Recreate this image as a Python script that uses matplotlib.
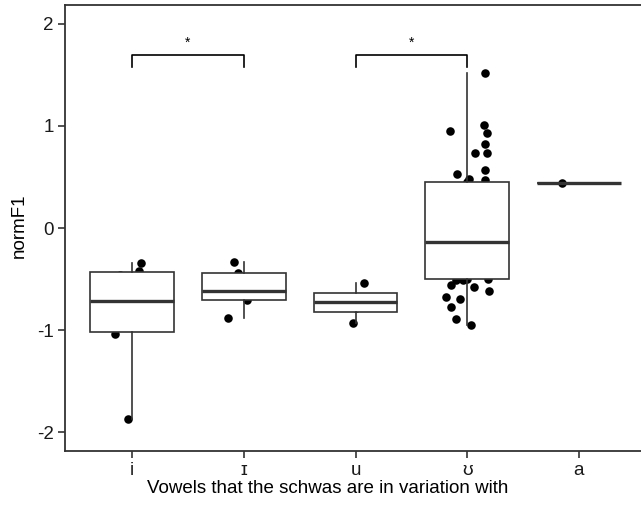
import matplotlib
matplotlib.use("Agg")
import matplotlib.pyplot as plt
import numpy as np

plt.rcParams['font.family'] = ['Liberation Sans', 'DejaVu Sans']

# ---- data ----
categories = ['i', 'ɪ', 'u', 'ʊ', 'a']

vals_i = [-1.876, -1.04, -0.972, -0.46, -0.425, -0.34]
jit_i = [-0.033, -0.15, 0.0, -0.104, 0.065, 0.083]

vals_I = [-0.878, -0.709, -0.618, -0.444, -0.333]
jit_I = [-0.143, 0.027, 0.0, -0.054, -0.089]

vals_u = [-0.928, -0.784, -0.674, -0.542]
jit_u = [-0.018, 0.0, 0.0, 0.08]

vals_U = [-0.951, -0.895, -0.777, -0.70, -0.68, -0.615, -0.575, -0.559, -0.51, -0.51, -0.503,
          -0.495, -0.45, -0.40, -0.35, -0.31, -0.27, -0.23, -0.20, -0.17, -0.15, -0.14,
          -0.128, -0.05, 0.02, 0.08, 0.15, 0.21, 0.27, 0.32, 0.37, 0.41, 0.449,
          0.47, 0.477, 0.526, 0.569, 0.732, 0.732, 0.82, 0.928, 0.954, 1.01, 1.517]
jit_U = [0.036, -0.104, -0.143, -0.069, -0.188, 0.195, 0.059, -0.143, -0.104, -0.039, 0.184,
         0.0, 0.0, 0.0, 0.0, 0.0, 0.0, 0.0, 0.0, 0.0, 0.0, 0.0,
         0.0, 0.0, 0.0, 0.0, 0.0, 0.0, 0.0, 0.0, 0.0, 0.0, 0.0,
         0.157, 0.014, -0.093, 0.161, 0.074, 0.175, 0.163, 0.175, -0.158, 0.146, 0.155]

vals_a = [0.445]
jit_a = [-0.15]

groups = [vals_i, vals_I, vals_u, vals_U, vals_a]
jitters = [jit_i, jit_I, jit_u, jit_U, jit_a]

# significance brackets: (left category index, right category index, label)
brackets = [(0, 1, '*'), (2, 3, '*')]
bracket_y = 1.695
bracket_leg = 1.58
star_y = 1.82

yticks = [-2, -1, 0, 1, 2]

# ---- figure ----
fig = plt.figure(figsize=(6.41, 5.12), dpi=100)
ax = fig.add_axes([65 / 641, 1 - 450.7 / 512, 581 / 641, 445.7 / 512])

positions = np.arange(1, len(categories) + 1)

for pos, v, j in zip(positions, groups, jitters):
    ax.scatter(pos + np.array(j), v, s=38, color='black', zorder=2, linewidths=0)

ax.boxplot(groups, positions=positions, widths=0.75, whis=1.5, showfliers=False,
           showcaps=False, patch_artist=True,
           boxprops=dict(facecolor='white', edgecolor='#333333', linewidth=1.2),
           whiskerprops=dict(color='#333333', linewidth=1.2),
           medianprops=dict(color='#333333', linewidth=2.4),
           zorder=3)

for l, r, lab in brackets:
    x0, x1 = positions[l], positions[r]
    ax.plot([x0, x0, x1, x1], [bracket_leg, bracket_y, bracket_y, bracket_leg],
            color='black', linewidth=1.2, zorder=4)
    ax.text((x0 + x1) / 2, star_y, lab, ha='center', va='center', fontsize=10)

ax.set_xlim(0.4, 5.6)
ax.set_ylim(-2.183, 2.186)
ax.set_xticks(positions)
ax.set_xticklabels(categories)
ax.set_yticks(yticks)
ax.set_yticklabels([str(t) for t in yticks])
ax.tick_params(axis='both', labelsize=13.5, length=5, width=1.2, color='#333333',
               labelcolor='#1a1a1a', pad=3)

for s in ax.spines.values():
    s.set_linewidth(1.3)
    s.set_color('#333333')

ax.set_xlabel('Vowels that the schwas are in variation with', fontsize=13.5,
              va='center', ha='center')
ax.xaxis.set_label_coords((328 - 65) / 581, (450.7 - 488.5) / 445.7)
ax.set_ylabel('normF1', fontsize=13.5, va='center', ha='center')
ax.yaxis.set_label_coords((19.7 - 65) / 581, (450.7 - 226) / 445.7)

fig.savefig('out.png', dpi=100)
